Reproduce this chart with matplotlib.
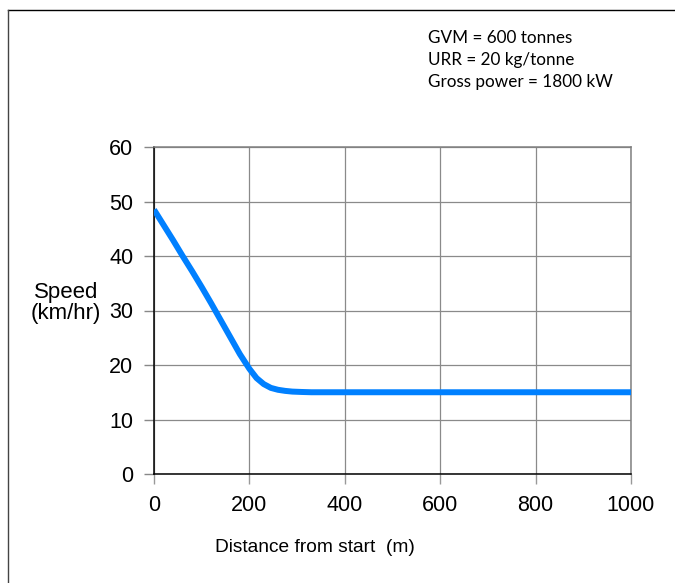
import matplotlib.pyplot as plt
from matplotlib.lines import Line2D

# Data
distance = [0, 20, 40, 60, 80, 100, 120, 140, 160, 180, 200, 215, 230,
            245, 260, 275, 290, 310, 330, 360, 400, 500, 600, 700, 800,
            900, 1000]
speed = [48.5, 45.7, 42.9, 40.0, 37.2, 34.3, 31.3, 28.2, 25.1, 22.0, 19.3,
         17.6, 16.5, 15.8, 15.45, 15.25, 15.12, 15.05, 15.0, 15.0, 15.0,
         15.0, 15.0, 15.0, 15.0, 15.0, 15.0]

x_ticks = [0, 200, 400, 600, 800, 1000]
y_ticks = [0, 10, 20, 30, 40, 50, 60]
notes = ["GVM = 600 tonnes", "URR = 20 kg/tonne", "Gross power = 1800 kW"]

plt.rcParams['font.family'] = ['Liberation Sans', 'DejaVu Sans']

fig = plt.figure(figsize=(6.75, 5.83), dpi=100)
ax = fig.add_axes([154 / 675, 1 - 474 / 583, 477 / 675, 327 / 583])

ax.plot(distance, speed, color='#0080ff', linewidth=4.3,
        solid_capstyle='butt', solid_joinstyle='round', zorder=3)

ax.set_xlim(0, 1000)
ax.set_ylim(0, 60)
ax.set_xticks(x_ticks)
ax.set_yticks(y_ticks)
ax.grid(True, color='#8a8a8a', linewidth=0.9)
ax.set_axisbelow(True)

ax.tick_params(axis='both', labelsize=15.5, direction='out', length=7, width=1)
ax.tick_params(axis='x', color='#999999', pad=8)
ax.tick_params(axis='y', color='#888888', pad=8)

ax.spines['left'].set_color('black')
ax.spines['bottom'].set_color('black')
ax.spines['top'].set_color('#808080')
ax.spines['right'].set_color('#808080')
for s in ax.spines.values():
    s.set_linewidth(1.1)

fig.text(315 / 675, 1 - 547 / 583, "Distance from start  (m)", fontsize=13.8,
         ha='center', va='center')
fig.text(66 / 675, 1 - 303 / 583, "Speed\n(km/hr)", fontsize=16,
         ha='center', va='center', linespacing=1.05)

fig.text(428 / 675, 1 - 30 / 583, "\n".join(notes), fontsize=12.3,
         family=['Lato', 'DejaVu Sans'], ha='left', va='top', linespacing=1.45)

# outer frame (top and left only)
fig.add_artist(Line2D([8 / 675, 1], [1 - 10 / 583, 1 - 10 / 583],
                      transform=fig.transFigure, color='black', linewidth=1))
fig.add_artist(Line2D([8 / 675, 8 / 675], [0, 1 - 10 / 583],
                      transform=fig.transFigure, color='#444444', linewidth=1))

fig.savefig("out.png", dpi=100)
